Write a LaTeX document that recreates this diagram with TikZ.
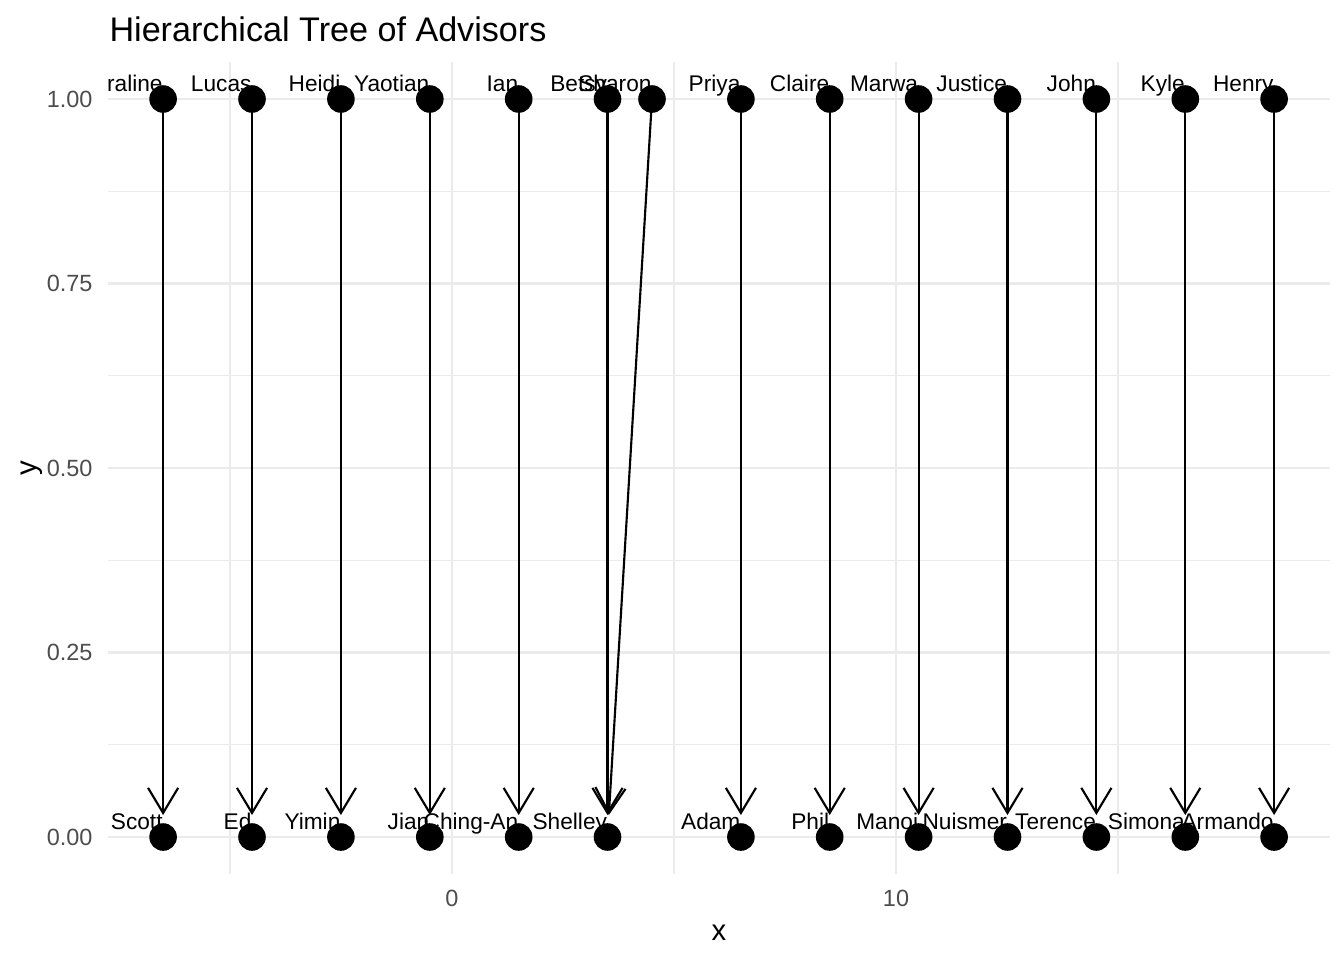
\documentclass[tikz,border=0pt]{standalone}
\usepackage{fontspec}
\setmainfont{Liberation Sans}
\usetikzlibrary{arrows.meta}
\definecolor{gridc}{HTML}{EBEBEB}
\definecolor{tickc}{HTML}{4D4D4D}
\begin{document}
\begin{tikzpicture}[x=0.375pt,y=-0.375pt,
  majorgrid/.style={draw=gridc,line width=1.07pt},
  minorgrid/.style={draw=gridc,line width=0.53pt},
  dot/.style={circle,fill=black,inner sep=0pt,minimum size=10.35pt},
  lbl/.style={anchor=base east,inner sep=0pt,font=\fontsize{8.5}{10}\selectfont},
  link/.style={line width=0.8pt,-{Straight Barb[length=9.4pt,width=11.3pt]},shorten >=8.25pt},
  tick/.style={text=tickc,font=\fontsize{8.8}{10}\selectfont,inner sep=0pt},
  axtitle/.style={font=\fontsize{11}{13}\selectfont,inner sep=0pt}]
\useasboundingbox[fill=white] (0,0) rectangle (1344,960);
% grid
\foreach \x in {230,674,1118} \draw[minorgrid] (\x,62) -- (\x,874);
\foreach \y in {191.25,375.75,560.25,744.75} \draw[minorgrid] (108,\y) -- (1330,\y);
\foreach \x in {452,896} \draw[majorgrid] (\x,62) -- (\x,874);
\foreach \y in {99,283.5,468,652.5,837} \draw[majorgrid] (108,\y) -- (1330,\y);
% title and axes
\node[anchor=base west,inner sep=0pt,font=\fontsize{12.8}{15}\selectfont] (title) at (109,41) {Hierarchical Tree of Advisors};
\node[tick,anchor=east] (t100) at (93,99) {1.00};
\node[tick,anchor=east] (t075) at (93,283.5) {0.75};
\node[tick,anchor=east] (t050) at (93,468) {0.50};
\node[tick,anchor=east] (t025) at (93,652.5) {0.25};
\node[tick,anchor=east] (t000) at (93,837) {0.00};
\node[tick,anchor=base] (tx0) at (452,906) {0};
\node[tick,anchor=base] (tx10) at (896,906) {10};
\node[axtitle,anchor=base] (xtitle) at (719,940) {x};
\node[axtitle,anchor=base,rotate=90] (ytitle) at (37,468) {y};
% labels (top)
\node[lbl] (l-coraline) at (163.1,91.5) {raline};
\node[lbl] (l-lucas) at (252.0,91.5) {Lucas};
\node[lbl] (l-heidi) at (340.9,91.5) {Heidi};
\node[lbl] (l-yaotian) at (429.8,91.5) {Yaotian};
\node[lbl] (l-ian) at (518.7,91.5) {Ian};
\node[lbl] (l-betsy) at (607.5,91.5) {Betsy};
\node[lbl] (l-sharon) at (652.0,91.5) {Sharon};
\node[lbl] (l-priya) at (740.9,91.5) {Priya};
\node[lbl] (l-claire) at (829.7,91.5) {Claire};
\node[lbl] (l-marwa) at (918.6,91.5) {Marwa};
\node[lbl] (l-justice) at (1007.5,91.5) {Justice};
\node[lbl] (l-john) at (1096.4,91.5) {John};
\node[lbl] (l-kyle) at (1185.3,91.5) {Kyle};
\node[lbl] (l-henry) at (1274.1,91.5) {Henry};
% labels (bottom)
\node[lbl] (l-scott) at (163.1,829.5) {Scott};
\node[lbl] (l-ed) at (252.0,829.5) {Ed};
\node[lbl] (l-yimin) at (340.9,829.5) {Yimin};
\node[lbl] (l-jian) at (429.8,829.5) {Jian};
\node[lbl] (l-chingan) at (518.7,829.5) {Ching-An};
\node[lbl] (l-shelley) at (607.5,829.5) {Shelley};
\node[lbl] (l-adam) at (740.9,829.5) {Adam};
\node[lbl] (l-phil) at (829.7,829.5) {Phil};
\node[lbl] (l-manoj) at (918.6,829.5) {Manoj};
\node[lbl] (l-nuismer) at (1007.5,829.5) {Nuismer};
\node[lbl] (l-terence) at (1096.4,829.5) {Terence};
\node[lbl] (l-simona) at (1185.3,829.5) {Simona};
\node[lbl] (l-armando) at (1274.1,829.5) {Armando};
% points (top)
\node[dot] (coraline) at (163.1,99) {};
\node[dot] (lucas) at (252.0,99) {};
\node[dot] (heidi) at (340.9,99) {};
\node[dot] (yaotian) at (429.8,99) {};
\node[dot] (ian) at (518.7,99) {};
\node[dot] (betsy) at (607.5,99) {};
\node[dot] (sharon) at (652.0,99) {};
\node[dot] (priya) at (740.9,99) {};
\node[dot] (claire) at (829.7,99) {};
\node[dot] (marwa) at (918.6,99) {};
\node[dot] (justice) at (1007.5,99) {};
\node[dot] (john) at (1096.4,99) {};
\node[dot] (kyle) at (1185.3,99) {};
\node[dot] (henry) at (1274.1,99) {};
% points (bottom)
\node[dot] (scott) at (163.1,837) {};
\node[dot] (ed) at (252.0,837) {};
\node[dot] (yimin) at (340.9,837) {};
\node[dot] (jian) at (429.8,837) {};
\node[dot] (chingan) at (518.7,837) {};
\node[dot] (shelley) at (607.5,837) {};
\node[dot] (adam) at (740.9,837) {};
\node[dot] (phil) at (829.7,837) {};
\node[dot] (manoj) at (918.6,837) {};
\node[dot] (nuismer) at (1007.5,837) {};
\node[dot] (terence) at (1096.4,837) {};
\node[dot] (simona) at (1185.3,837) {};
\node[dot] (armando) at (1274.1,837) {};
% arrows
\draw[link] (coraline.center) -- (scott.center);
\draw[link] (lucas.center) -- (ed.center);
\draw[link] (heidi.center) -- (yimin.center);
\draw[link] (yaotian.center) -- (jian.center);
\draw[link] (ian.center) -- (chingan.center);
\draw[link] (betsy.center) -- (shelley.center);
\draw[link] (sharon.center) -- (shelley.center);
\draw[link] (priya.center) -- (adam.center);
\draw[link] (claire.center) -- (phil.center);
\draw[link] (marwa.center) -- (manoj.center);
\draw[link] (justice.center) -- (nuismer.center);
\draw[link] (john.center) -- (terence.center);
\draw[link] (kyle.center) -- (simona.center);
\draw[link] (henry.center) -- (armando.center);
\end{tikzpicture}
\end{document}
